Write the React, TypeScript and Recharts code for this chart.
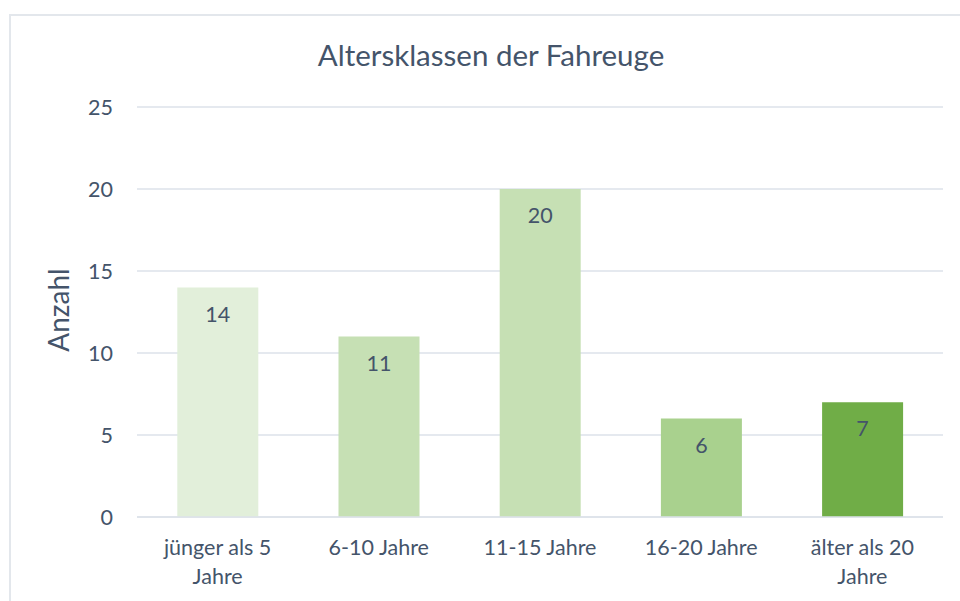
import { BarChart, Bar, XAxis, YAxis, CartesianGrid, Cell, LabelList } from 'recharts'

const categories = ['jünger als 5\nJahre', '6-10 Jahre', '11-15 Jahre', '16-20 Jahre', 'älter als 20\nJahre']
const counts = [14, 11, 20, 6, 7]
const barColors = ['#E2EFDA', '#C6E0B4', '#C6E0B4', '#A9D18E', '#70AD47']
const yTicks = [0, 5, 10, 15, 20, 25]

const data = categories.map((name, i) => ({ name, count: counts[i] }))

const textColor = '#44546A'
const gridColor = '#DDE2EA'
const font = 'Lato, "Open Sans", sans-serif'

function CategoryTick(props: any) {
  const { x, y, payload } = props
  const lines = String(payload.value).split('\n')
  return (
    <text x={x} y={y} textAnchor="middle" fill={textColor} fontSize={21.5} fontFamily={font}>
      {lines.map((line, i) => (
        <tspan key={i} x={x} dy={i === 0 ? 30 : 29}>
          {line}
        </tspan>
      ))}
    </text>
  )
}

export default function App() {
  return (
    <div style={{ position: 'absolute', left: 0, top: 0, width: 960, height: 601, overflow: 'hidden', background: '#fff' }}>
      <div
        style={{
          position: 'absolute',
          left: 9,
          top: 14,
          width: 980,
          height: 620,
          border: '2px solid #E3E7EC',
          boxSizing: 'border-box',
        }}
      />
      <div
        style={{
          position: 'absolute',
          left: 0,
          width: 982,
          top: 37,
          textAlign: 'center',
          color: textColor,
          fontFamily: font,
          fontSize: 29.5,
        }}
      >
        Altersklassen der Fahreuge
      </div>
      <div
        style={{
          position: 'absolute',
          left: 58,
          top: 310,
          transform: 'translate(-50%, -50%) rotate(-90deg)',
          color: textColor,
          fontFamily: font,
          fontSize: 28,
          whiteSpace: 'nowrap',
        }}
      >
        Anzahl
      </div>
      <div style={{ position: 'absolute', left: 0, top: 0 }}>
        <BarChart width={960} height={601} data={data} margin={{ top: 107, right: 17, bottom: 14, left: 77 }} barCategoryGap="25%">
          <CartesianGrid vertical={false} stroke={gridColor} strokeWidth={1.5} />
          <XAxis
            dataKey="name"
            height={70}
            axisLine={{ stroke: gridColor, strokeWidth: 1.5 }}
            tickLine={false}
            tick={<CategoryTick />}
            interval={0}
          />
          <YAxis
            width={60}
            domain={[0, 25]}
            ticks={yTicks}
            axisLine={false}
            tickLine={false}
            tickMargin={18}
            tick={{ fill: textColor, fontSize: 21.5, fontFamily: font }}
          />
          <Bar dataKey="count" isAnimationActive={false}>
            {data.map((d, i) => (
              <Cell key={d.name} fill={barColors[i]} />
            ))}
            <LabelList dataKey="count" position="insideTop" offset={19} fill={textColor} fontSize={21.5} fontFamily={font} />
          </Bar>
        </BarChart>
      </div>
    </div>
  )
}
